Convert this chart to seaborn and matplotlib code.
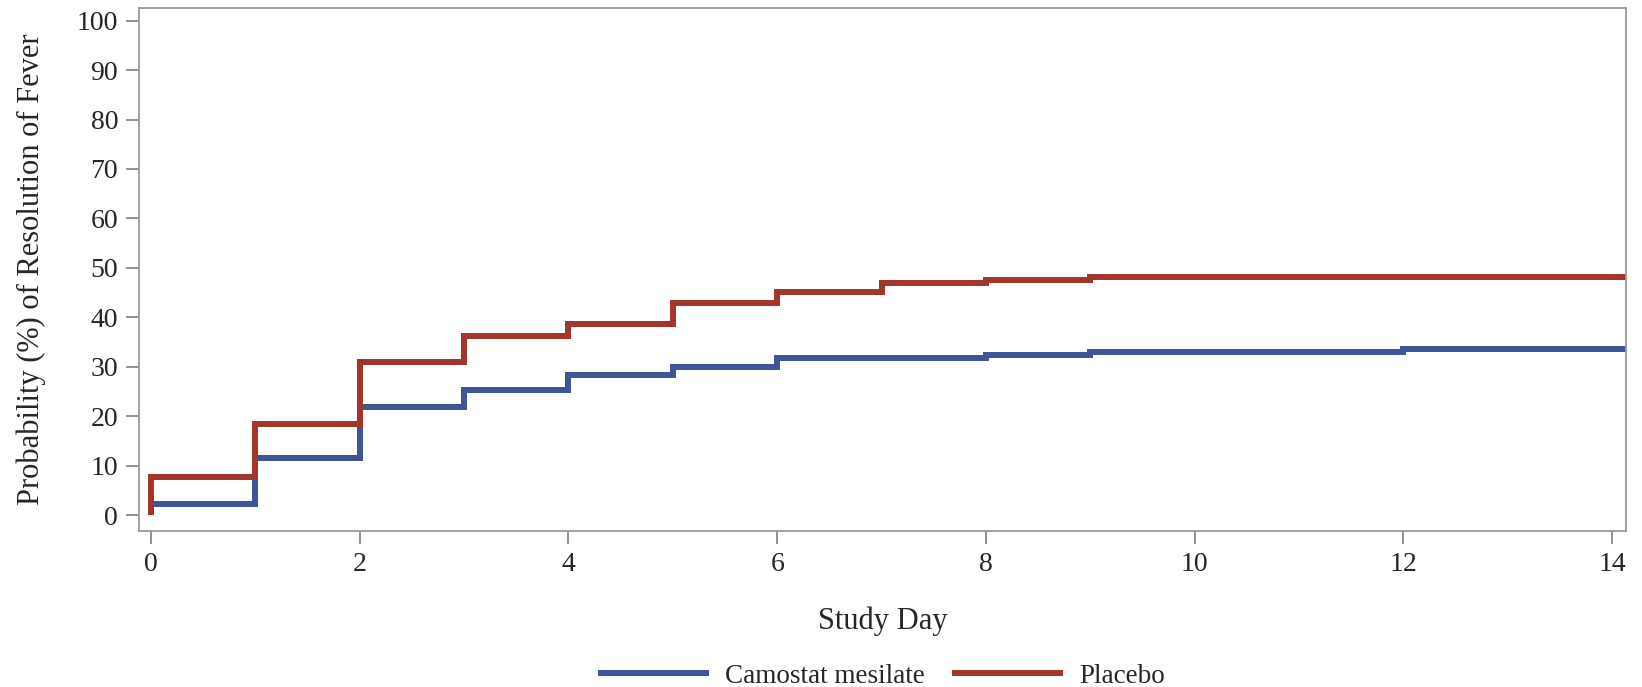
import pandas as pd
import numpy as np
import matplotlib
matplotlib.use("Agg")
import matplotlib.pyplot as plt
import seaborn as sns

# ----------------------------- DATA -----------------------------
camostat_days = [0, 0, 1, 2, 3, 4, 5, 6, 8, 9, 12, 15]
camostat_prob = [0, 2.2, 11.5, 21.8, 25.4, 28.3, 30.0, 31.8, 32.4, 33.0, 33.6, 33.6]

placebo_days = [0, 0, 1, 2, 3, 4, 5, 6, 7, 8, 9, 15]
placebo_prob = [0, 7.7, 18.5, 31.0, 36.2, 38.7, 43.0, 45.2, 47.0, 47.6, 48.2, 48.2]

groups = ["Camostat mesilate", "Placebo"]
colors = ["#3F5597", "#A2352B"]
y_ticks = list(range(0, 101, 10))
x_ticks = list(range(0, 15, 2))

# ----------------------------- FRAME -----------------------------
df = pd.concat([
    pd.DataFrame({"day": camostat_days, "prob": camostat_prob, "group": groups[0]}),
    pd.DataFrame({"day": placebo_days, "prob": placebo_prob, "group": groups[1]}),
], ignore_index=True)

# ----------------------------- PLOT -----------------------------
sns.set_style("white")
plt.rcParams["font.family"] = ["Liberation Serif", "DejaVu Serif"]

fig = plt.figure(figsize=(16.42, 6.87), dpi=100)
ax = fig.add_axes([0.0847, 0.227, 0.9053, 0.761])

sns.lineplot(data=df, x="day", y="prob", hue="group", hue_order=groups,
             palette=colors, estimator=None, sort=False, units="group",
             drawstyle="steps-post", linewidth=4.3, ax=ax, legend=True,
             solid_capstyle="butt", solid_joinstyle="miter")

ax.set_xlim(-0.115, 14.13)
ax.set_ylim(-3.2, 102.5)
ax.set_xticks(x_ticks)
ax.set_yticks(y_ticks)
ax.tick_params(axis="both", direction="out", length=9.5, width=1.3,
               color="#888888", labelsize=20, pad=5.5, left=True, bottom=True)
for s in ax.spines.values():
    s.set_color("#999999")
    s.set_linewidth(1.3)

ax.set_xlabel("Study Day", fontsize=22, labelpad=21)
ax.set_ylabel("Probability (%) of Resolution of Fever", fontsize=22, labelpad=22)

handles, labels = ax.get_legend_handles_labels()
ax.get_legend().remove()
for h in handles:
    h.set_solid_capstyle("butt")
fig.legend(handles, labels, loc="lower center", bbox_to_anchor=(0.537, -0.038),
           ncol=2, frameon=False, fontsize=19.5, handlelength=4.1,
           columnspacing=1.0, handletextpad=0.6)

fig.savefig("out.png", dpi=100)
